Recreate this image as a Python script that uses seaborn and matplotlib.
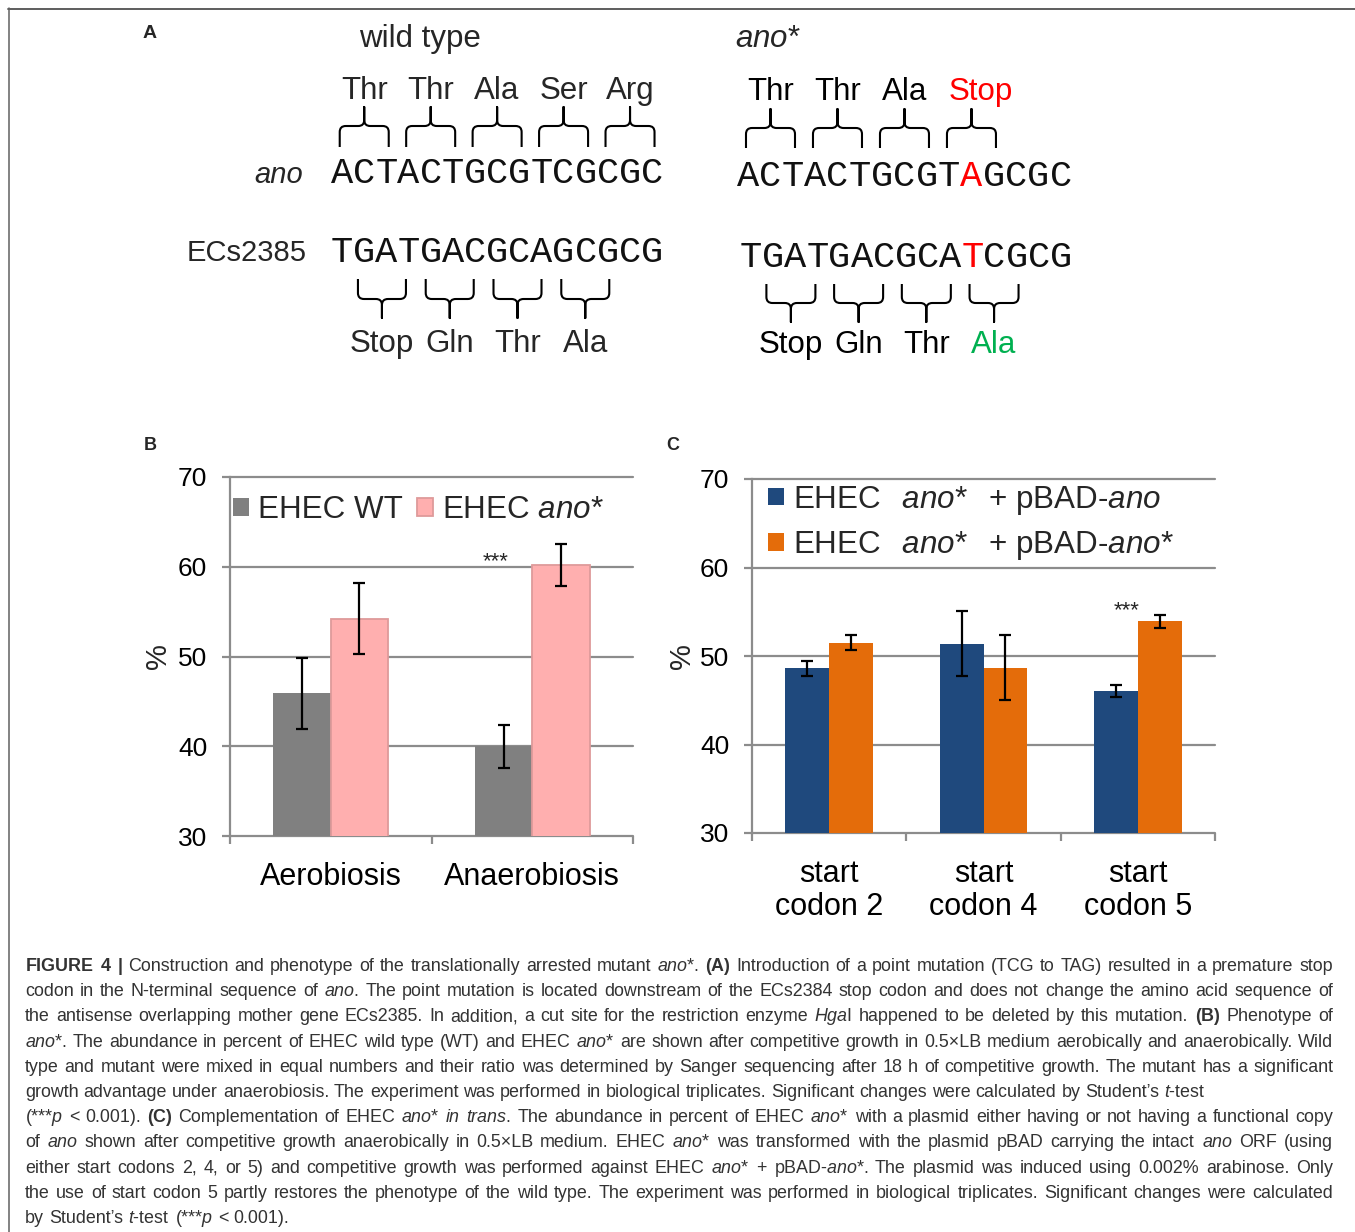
import numpy as np
import pandas as pd
import matplotlib
matplotlib.use("Agg")
import matplotlib.pyplot as plt
import seaborn as sns
from matplotlib.path import Path
from matplotlib.patches import PathPatch
from matplotlib.ticker import FixedLocator

# ---------------------------------------------------------------- data
# Panel A: sequences and translated codons
wt_top_aa = ["Thr", "Thr", "Ala", "Ser", "Arg"]
mut_top_aa = ["Thr", "Thr", "Ala", "Stop"]
ano_seq_wt = "ACTACTGCGTCGCGC"
ano_seq_mut = "ACTACTGCGTAGCGC"
ecs_seq_wt = "TGATGACGCAGCGCG"
ecs_seq_mut = "TGATGACGCATCGCG"
bottom_aa = ["Stop", "Gln", "Thr", "Ala"]
mutated_index = 10

# Panel B
b_conditions = ["Aerobiosis", "Anaerobiosis"]
b_strains = ["EHEC WT", r"EHEC $\mathit{ano}$*"]
b_wt_mean = [45.9, 40.0]
b_wt_err = [3.95, 2.4]
b_mut_mean = [54.2, 60.2]
b_mut_err = [3.95, 2.35]

# Panel C
c_constructs = ["start\ncodon 2", "start\ncodon 4", "start\ncodon 5"]
c_strains = [r"EHEC  $\,\mathit{ano}$*  $\,$+ pBAD-$\mathit{ano}$",
             r"EHEC  $\,\mathit{ano}$*  $\,$+ pBAD-$\mathit{ano}$*"]
c_ano_mean = [48.6, 51.4, 46.05]
c_ano_err = [0.85, 3.7, 0.7]
c_mut_mean = [51.5, 48.7, 53.9]
c_mut_err = [0.85, 3.65, 0.7]

# Caption (text, justified?)
caption_lines = [
    (r"$\mathbf{FIGURE}$ $\mathbf{4}$ $\mathbf{|}$ Construction and phenotype of the translationally arrested mutant $\mathit{ano}$*. $\mathbf{(A)}$ Introduction of a point mutation (TCG to TAG) resulted in a premature stop", True),
    (r"codon in the N-terminal sequence of $\mathit{ano}$. The point mutation is located downstream of the ECs2384 stop codon and does not change the amino acid sequence of", True),
    (r"the antisense overlapping mother gene ECs2385. In addition, a cut site for the restriction enzyme $\mathit{Hga}$I happened to be deleted by this mutation. $\mathbf{(B)}$ Phenotype of", True),
    (r"$\mathit{ano}$*. The abundance in percent of EHEC wild type (WT) and EHEC $\mathit{ano}$* are shown after competitive growth in 0.5×LB medium aerobically and anaerobically. Wild", True),
    (r"type and mutant were mixed in equal numbers and their ratio was determined by Sanger sequencing after 18 h of competitive growth. The mutant has a significant", True),
    (r"growth advantage under anaerobiosis. The experiment was performed in biological triplicates. Significant changes were calculated by Student’s $\mathit{t}$-test", False),
    (r"(***$\mathit{p}$ < 0.001). $\mathbf{(C)}$ Complementation of EHEC $\mathit{ano}$* $\mathit{in}$ $\mathit{trans.}$ The abundance in percent of EHEC $\mathit{ano}$* with a plasmid either having or not having a functional copy", True),
    (r"of $\mathit{ano}$ shown after competitive growth anaerobically in 0.5×LB medium. EHEC $\mathit{ano}$* was transformed with the plasmid pBAD carrying the intact $\mathit{ano}$ ORF (using", True),
    (r"either start codons 2, 4, or 5) and competitive growth was performed against EHEC $\mathit{ano}$* + pBAD-$\mathit{ano}$*. The plasmid was induced using 0.002% arabinose. Only", True),
    (r"the use of start codon 5 partly restores the phenotype of the wild type. The experiment was performed in biological triplicates. Significant changes were calculated", True),
    (r"by Student’s $\mathit{t}$-test (***$\mathit{p}$ < 0.001).", False),
]

# ---------------------------------------------------------------- style
sns.set_theme(style="white")
plt.rcParams["font.family"] = ["Liberation Sans", "DejaVu Sans"]
plt.rcParams["mathtext.fontset"] = "custom"
plt.rcParams["mathtext.rm"] = "Liberation Sans"
plt.rcParams["mathtext.it"] = "Liberation Sans:italic"
plt.rcParams["mathtext.bf"] = "Liberation Sans:bold"

W, H = 1355, 1232
GRID = "#8C8C8C"
GRAY = "#808080"
PINK = "#FFAFAF"
PINK_EDGE = "#DE9A9A"
BLUE = "#1F497D"
ORANGE = "#E46C0A"
RED = "#FF0000"
GREEN = "#00B050"

fig = plt.figure(figsize=(W / 100, H / 100), dpi=100)
fig.patch.set_facecolor("white")


def px_rect(l, t, r, b):
    return [l / W, 1 - b / H, (r - l) / W, (b - t) / H]


# overlay in pixel coordinates
ov = fig.add_axes([0, 0, 1, 1])
ov.set_xlim(0, W)
ov.set_ylim(H, 0)
ov.axis("off")

# border
ov.plot([8, W], [8.5, 8.5], color="#505050", lw=1.3, clip_on=False)
ov.plot([8.5, 8.5], [8, H], color="#606060", lw=1.1, clip_on=False)

# ---------------------------------------------------------------- panel A
AA_SIZE = 22.5
ov.text(150, 34, "A", fontsize=14, fontweight="bold", ha="center", va="center")
ov.text(420, 47, "wild type", fontsize=22.5, ha="center", va="baseline")
ov.text(768, 47, r"$\mathit{ano}$*", fontsize=22.5, ha="center", va="baseline")
ov.text(303, 183, "ano", fontsize=21, style="italic", ha="right", va="baseline")
ov.text(307, 261, "ECs2385", fontsize=21, ha="right", va="baseline")

CW = 22.2
MONO_SIZE = CW / 0.6 / (100 / 72)


def draw_seq(seq, x0, yb, cw, highlight=None):
    for i, ch in enumerate(seq):
        col = RED if i == highlight else "#111111"
        ov.text(x0 + cw * (i + 0.5), yb, ch, fontsize=MONO_SIZE,
                family="Liberation Mono", color=col, ha="center", va="baseline")


def brace(cx, w, y_leg, y_bar, y_tip, r=6, lw=1.5):
    s = 1 if y_leg > y_bar else -1
    xl, xr = cx - w / 2, cx + w / 2
    verts = [(xl, y_leg), (xl, y_bar + s * r), (xl, y_bar), (xl + r, y_bar),
             (cx - r, y_bar), (cx, y_bar), (cx, y_bar - s * r), (cx, y_tip),
             (cx, y_bar - s * r), (cx, y_bar), (cx + r, y_bar),
             (xr - r, y_bar), (xr, y_bar), (xr, y_bar + s * r), (xr, y_leg)]
    M, L, C = Path.MOVETO, Path.LINETO, Path.CURVE3
    codes = [M, L, C, C, L, C, C, L, L, C, C, L, C, C, L]
    ov.add_patch(PathPatch(Path(verts, codes), fill=False, lw=lw,
                           edgecolor="black", joinstyle="round", capstyle="butt"))


# left (wild type)
x0L, cwL = 331, 22.15
draw_seq(ano_seq_wt, x0L, 183, cwL)
draw_seq(ecs_seq_wt, x0L, 262, cwL)
for k, aa in enumerate(wt_top_aa):
    cx = x0L + cwL * (1.5 + 3 * k)
    brace(cx, 49, 147, 126, 107)
    ov.text(cx, 99, aa, fontsize=AA_SIZE, ha="center", va="baseline")
for k, aa in enumerate(bottom_aa):
    cx = x0L + cwL * (2.3 + 3.06 * k)
    brace(cx, 48, 279, 299, 318)
    ov.text(cx, 352, aa, fontsize=AA_SIZE, ha="center", va="baseline")

# right (mutant)
x0R1, cwR1 = 737, 22.33
x0R2, cwR2 = 740, 22.13
draw_seq(ano_seq_mut, x0R1, 186, cwR1, highlight=mutated_index)
draw_seq(ecs_seq_mut, x0R2, 267, cwR2, highlight=mutated_index)
for k, aa in enumerate(mut_top_aa):
    cx = x0R1 + cwR1 * (1.5 + 3 * k)
    brace(cx, 49, 148, 128, 109)
    ov.text(cx + (9 if aa == "Stop" else 0), 100, aa, fontsize=AA_SIZE, ha="center",
            va="baseline", color=RED if aa == "Stop" else "black")
for k, aa in enumerate(bottom_aa):
    cx = x0R2 + cwR2 * (2.3 + 3.06 * k)
    brace(cx, 49, 284, 303, 322)
    ov.text(cx, 353, aa, fontsize=AA_SIZE, ha="center", va="baseline",
            color=GREEN if k == len(bottom_aa) - 1 else "black")

# panel letters B, C
ov.text(150, 445, "B", fontsize=13, fontweight="bold", ha="center", va="center")
ov.text(673, 445, "C", fontsize=13, fontweight="bold", ha="center", va="center")


# ---------------------------------------------------------------- bar panels
def bar_panel(ax, cats, strains, m1, e1, m2, e2, colors, xpad):
    df = pd.DataFrame({
        "cat": list(cats) * 2,
        "strain": [strains[0]] * len(cats) + [strains[1]] * len(cats),
        "val": list(m1) + list(m2),
    })
    sns.barplot(data=df, x="cat", y="val", hue="strain", hue_order=strains,
                palette=colors, width=0.57, errorbar=None, saturation=1,
                linewidth=0, ax=ax)
    for cont, errs in zip(ax.containers, [e1, e2]):
        xs = [p.get_x() + p.get_width() / 2 for p in cont]
        ys = [p.get_y() + p.get_height() for p in cont]
        ax.errorbar(xs, ys, yerr=errs, fmt="none", ecolor="black",
                    elinewidth=1.6, capsize=4.5, capthick=1.6, zorder=5)
    n = len(cats)
    ax.set_ylim(30, 70)
    ax.set_xlim(-0.5, n - 0.5)
    ax.yaxis.set_major_locator(FixedLocator([30, 40, 50, 60, 70]))
    ax.grid(False)
    ax.yaxis.grid(True, color=GRID, lw=1.6)
    for gl in ax.get_ygridlines():
        gl.set_clip_on(False)
    ax.set_axisbelow(True)
    for s in ["top", "right", "bottom"]:
        ax.spines[s].set_visible(False)
    ax.spines["left"].set_color(GRID)
    ax.spines["left"].set_linewidth(1.6)
    ax.tick_params(axis="y", which="major", length=5.8, width=1.6, color=GRID,
                   labelsize=19, pad=10.5, labelcolor="black", left=True)
    ax.set_xticks(np.arange(-0.5, n), minor=True)
    ax.tick_params(axis="x", which="minor", length=5.8, width=1.6, color=GRID,
                   bottom=True, direction="out")
    ax.tick_params(axis="x", which="major", length=0, labelsize=22, pad=xpad,
                   labelcolor="black")
    ax.set_xlabel("")
    ax.patch.set_alpha(0)


LEG_SIZE = 22.6

axB = fig.add_axes(px_rect(230, 477, 633, 836))
bar_panel(axB, b_conditions, b_strains, b_wt_mean, b_wt_err, b_mut_mean, b_mut_err,
          [GRAY, PINK], 19)
for p in axB.containers[1]:
    p.set_edgecolor(PINK_EDGE)
    p.set_linewidth(1.3)
axB.set_ylabel("%", fontsize=21)
axB.yaxis.set_label_coords(-0.144, 0.5)
sns.move_legend(axB, "center left", bbox_to_anchor=(0.0075, 0.907), ncol=2,
                frameon=False, fontsize=LEG_SIZE, handlelength=0.5, handleheight=0.5,
                handletextpad=0.3, columnspacing=0.45, borderpad=0,
                borderaxespad=0, title="")
legB = axB.get_legend()
legB.legend_handles[1].set_edgecolor(PINK_EDGE)
legB.legend_handles[1].set_linewidth(1.3)
axB.text(0.82, 60.0, "***", fontsize=16, ha="center", va="baseline")

axC = fig.add_axes(px_rect(752, 479, 1215, 833))
bar_panel(axC, c_constructs, c_strains, c_ano_mean, c_ano_err, c_mut_mean, c_mut_err,
          [BLUE, ORANGE], 19)
for lbl in axC.get_xticklabels():
    lbl.set_linespacing(1.12)
axC.set_ylabel("%", fontsize=21)
axC.yaxis.set_label_coords(-0.121, 0.5)
sns.move_legend(axC, "center left", bbox_to_anchor=(0.035, 0.876), ncol=1,
                frameon=False, fontsize=LEG_SIZE, handlelength=0.5, handleheight=0.5,
                handletextpad=0.3, labelspacing=0.4, borderpad=0,
                borderaxespad=0, title="")
axC.text(1.925, 54.5, "***", fontsize=16, ha="center", va="baseline")

# ---------------------------------------------------------------- caption
renderer = fig.canvas.get_renderer()
CAP_L, CAP_R = 25, 1333
CAP_Y0, CAP_DY = 971, 25.2
CAP_COLOR = "#333333"


def text_w(s, size):
    t = ov.text(0, 0, s, fontsize=size)
    w = t.get_window_extent(renderer).width
    t.remove()
    return w


base = 12.0
sp_base = text_w("a a", base) - text_w("aa", base)
nat = []
for line, just in caption_lines:
    words = line.split(" ")
    nat.append(sum(text_w(w_, base) for w_ in words) + sp_base * (len(words) - 1))
target = CAP_R - CAP_L
max_nat = max(n_ for n_, (l_, j_) in zip(nat, caption_lines) if j_)
cap_size = base * target / max_nat * 0.993
sp = text_w("a a", cap_size) - text_w("aa", cap_size)

for i, (line, just) in enumerate(caption_lines):
    words = line.split(" ")
    widths = [text_w(w_, cap_size) for w_ in words]
    gap = (target - sum(widths)) / (len(words) - 1) if just else sp
    x = CAP_L
    y = CAP_Y0 + CAP_DY * i
    for w_, wd in zip(words, widths):
        ov.text(x, y, w_, fontsize=cap_size, color=CAP_COLOR, ha="left", va="baseline")
        x += wd + gap

fig.savefig("out.png", dpi=100)
